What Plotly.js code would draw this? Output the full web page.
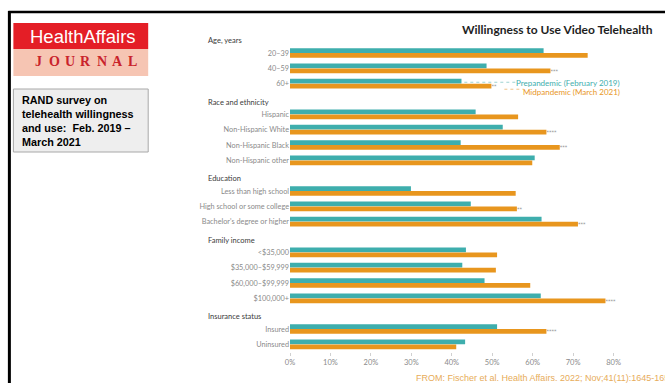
<!DOCTYPE html>
<html>
<head>
<meta charset="utf-8">
<script src="https://cdn.plot.ly/plotly-3.0.1.min.js"></script>
<style>html,body{margin:0;padding:0;background:#fff;}#chart{width:665px;height:383px;}</style>
</head>
<body>
<div id="chart"></div>
<script>
// ---- data ----
const headings = ['Age, years', 'Race and ethnicity', 'Education', 'Family income', 'Insurance status'];
const groupItems = [
  ['20–39', '40–59', '60+'],
  ['Hispanic', 'Non-Hispanic White', 'Non-Hispanic Black', 'Non-Hispanic other'],
  ['Less than high school', 'High school or some college', "Bachelor's degree or higher"],
  ['<$35,000', '$35,000–$59,999', '$60,000–$99,999', '$100,000+'],
  ['Insured', 'Uninsured']
];
const items = ['20–39', '40–59', '60+',
  'Hispanic', 'Non-Hispanic White', 'Non-Hispanic Black', 'Non-Hispanic other',
  'Less than high school', 'High school or some college', "Bachelor's degree or higher",
  '<$35,000', '$35,000–$59,999', '$60,000–$99,999', '$100,000+',
  'Insured', 'Uninsured'];
const prepandemic = [62.7, 48.6, 42.4, 45.9, 52.6, 42.2, 60.5, 29.9, 44.7, 62.2, 43.5, 42.6, 48.1, 62.0, 51.2, 43.3];
const midpandemic = [73.6, 64.4, 49.8, 56.4, 63.4, 66.7, 59.9, 55.8, 56.1, 71.2, 51.2, 50.9, 59.4, 78.0, 63.4, 41.1];
const significance = ['', '***', '**', '', '****', '***', '', '', '**', '***', '', '', '', '****', '****', ''];
const xTicks = [0, 10, 20, 30, 40, 50, 60, 70, 80];
const xTickText = ['0%', '10%', '20%', '30%', '40%', '50%', '60%', '70%', '80%'];
const seriesNames = ['Prepandemic (February 2019)', 'Midpandemic (March 2021)'];

// category order with heading slots
const cats = [];
headings.forEach((h, i) => { cats.push(h); groupItems[i].forEach(it => cats.push(it)); });

// ---- layout geometry helpers (pixels -> paper) ----
const W = 665, H = 383;
const M = {l: 290, r: 10.5, t: 30, b: 31};
const PW = W - M.l - M.r, PH = H - M.t - M.b;
const X = px => (px - M.l) / PW;
const Y = py => (H - M.b - py) / PH;

const teal = '#3eaead', orange = '#e8961e';
const bargap = 0.35;
const half = (1 - bargap) / 4;

const traces = [
  {type: 'bar', orientation: 'h', name: seriesNames[0], y: items, x: prepandemic,
   marker: {color: teal}, hoverinfo: 'x+y'},
  {type: 'bar', orientation: 'h', name: seriesNames[1], y: items, x: midpandemic,
   marker: {color: orange}, text: significance, textposition: 'outside',
   textfont: {size: 5, color: '#8a8a8a', family: 'DejaVu Sans'}, cliponaxis: false,
   constraintext: 'none', hoverinfo: 'x+y'}
];

const fontF = 'Lato, "Open Sans", sans-serif';
const annotations = [];
headings.forEach(h => annotations.push({
  xref: 'paper', yref: 'y', x: X(206), y: h, xanchor: 'left', yanchor: 'middle', yshift: -3,
  text: h, showarrow: false, font: {family: fontF, size: 7.5, color: '#3a3a3a'}
}));

// chart title
annotations.push({xref: 'paper', yref: 'paper', x: X(656), y: Y(29), xanchor: 'right', yanchor: 'middle',
  text: 'Willingness to Use Video Telehealth', showarrow: false,
  font: {family: fontF, size: 12, color: '#1e1e1e', weight: 'bold'}});

// legend labels next to the 60+ bars
const i60 = cats.indexOf('60+');
annotations.push({xref: 'paper', yref: 'y', x: X(622), y: i60 - half, xanchor: 'right', yanchor: 'middle', yshift: -1.5,
  text: seriesNames[0], showarrow: false, font: {family: fontF, size: 8, color: teal}});
annotations.push({xref: 'paper', yref: 'y', x: X(622), y: i60 + half, xanchor: 'right', yanchor: 'middle', yshift: -5.5,
  text: seriesNames[1], showarrow: false, font: {family: fontF, size: 8, color: orange}});

// left panel texts
annotations.push({xref: 'paper', yref: 'paper', x: X(83), y: Y(36), xanchor: 'center', yanchor: 'middle',
  text: 'HealthAffairs', showarrow: false, font: {family: 'Liberation Sans, Arial, sans-serif', size: 18.5, color: '#ffffff'}});
const journal = ['J', 'O', 'U', 'R', 'N', 'A', 'L'];
journal.forEach((c, k) => annotations.push({xref: 'paper', yref: 'paper', x: X(38.5 + k * 15.7), y: Y(62),
  xanchor: 'center', yanchor: 'middle', text: c, showarrow: false,
  font: {family: '"Liberation Serif", "DejaVu Serif", serif', size: 14, color: '#c9232b', weight: 'bold'}}));
annotations.push({xref: 'paper', yref: 'paper', x: X(20), y: Y(121), xanchor: 'left', yanchor: 'middle', align: 'left',
  text: 'RAND survey on<br>telehealth willingness<br>and use:  Feb. 2019 –<br>March 2021', showarrow: false,
  font: {family: 'Liberation Sans, Arial, sans-serif', size: 10.8, color: '#000', weight: 'bold'}});
// footer
annotations.push({xref: 'paper', yref: 'paper', x: X(414), y: Y(378), xanchor: 'left', yanchor: 'middle',
  text: 'FROM: Fischer et al. Health Affairs. 2022; Nov;41(11):1645-1650', showarrow: false,
  font: {family: 'Liberation Sans, Arial, sans-serif', size: 9, color: '#e7ac5a'}});

const shapes = [
  // frame
  {type: 'line', xref: 'paper', yref: 'paper', x0: X(8), x1: X(666), y0: Y(12), y1: Y(12), line: {color: '#000', width: 2.5}},
  {type: 'line', xref: 'paper', yref: 'paper', x0: X(9), x1: X(9), y0: Y(11), y1: Y(384), line: {color: '#000', width: 3}},
  // logo
  {type: 'rect', xref: 'paper', yref: 'paper', x0: X(13), x1: X(148), y0: Y(23), y1: Y(49), fillcolor: '#e41e26', line: {width: 0}},
  {type: 'rect', xref: 'paper', yref: 'paper', x0: X(13), x1: X(148), y0: Y(49), y1: Y(76), fillcolor: '#f6c5b3', line: {width: 0}},
  // note box
  {type: 'rect', xref: 'paper', yref: 'paper', x0: X(13), x1: X(148), y0: Y(89), y1: Y(152), fillcolor: '#eeeeee', line: {color: '#a8a8a8', width: 1}},
  // legend leader lines
  {type: 'line', xref: 'x', yref: 'y', x0: prepandemic[2] + 0.7, x1: 56, y0: i60 - half + 0.07, y1: i60 - half + 0.07,
   line: {color: '#9fd3d2', width: 1, dash: 'dot'}},
  {type: 'line', xref: 'x', yref: 'y', x0: midpandemic[2] + 3.2, x1: 57.8, y0: i60 + half + 0.2, y1: i60 + half + 0.2,
   line: {color: '#f0c38a', width: 1, dash: 'dot'}}
];

const layout = {
  width: W, height: H, margin: M, showlegend: false,
  paper_bgcolor: '#ffffff', plot_bgcolor: '#ffffff',
  barmode: 'group', bargap: bargap, bargroupgap: 0.05,
  font: {family: fontF, color: '#888'},
  xaxis: {range: [0, 90], tickmode: 'array', tickvals: xTicks, ticktext: xTickText, showgrid: false, zeroline: false, showline: false,
    ticks: 'outside', ticklen: 3, tickcolor: '#d0d0d0', tickfont: {family: fontF, size: 7.5, color: '#8a8a8a'}},
  yaxis: {type: 'category', categoryarray: cats, categoryorder: 'array', range: [cats.length - 0.5, -0.5],
    tickmode: 'array', tickvals: items, ticktext: items, showgrid: false, zeroline: false, showline: false, ticks: '',
    tickfont: {family: fontF, size: 7.3, color: '#8a8a8a'}},
  annotations: annotations, shapes: shapes
};

Plotly.newPlot('chart', traces, layout, {displayModeBar: false, staticPlot: true});
</script>
</body>
</html>
